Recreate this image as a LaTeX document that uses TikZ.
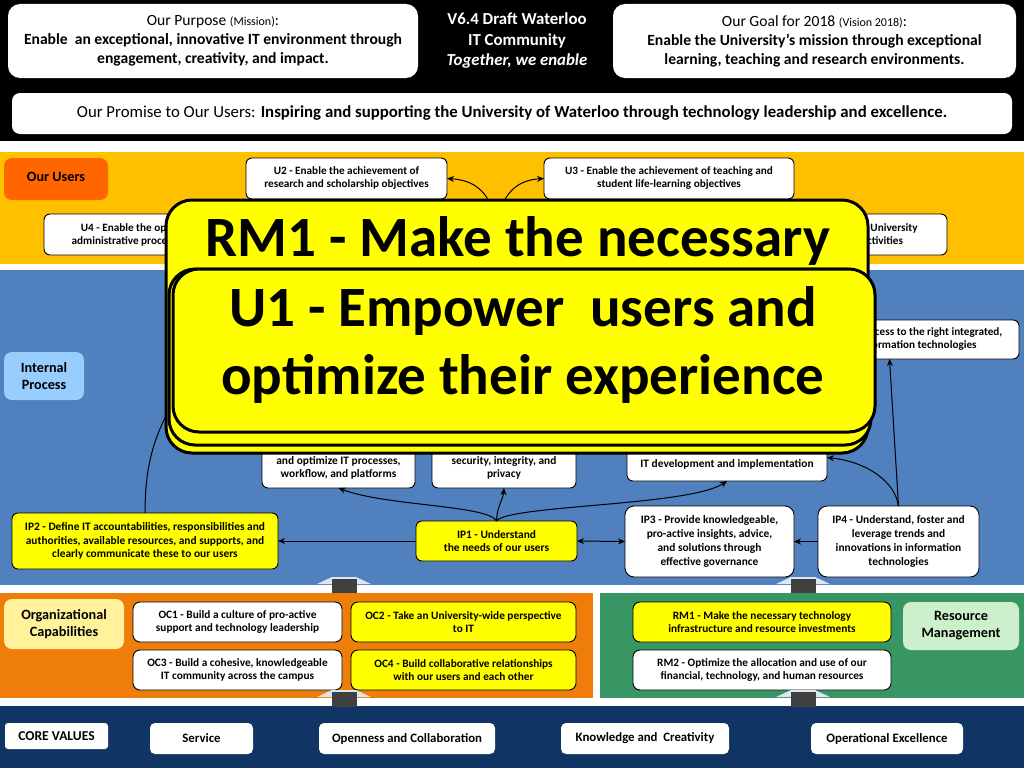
\documentclass[tikz,border=0pt]{standalone}
\usepackage{fontspec}
\setmainfont{Carlito}
\usetikzlibrary{arrows.meta}
\definecolor{usersband}{RGB}{255,192,0}
\definecolor{ipband}{RGB}{80,128,189}
\definecolor{ocband}{RGB}{238,125,10}
\definecolor{rmband}{RGB}{55,150,100}
\definecolor{cvband}{RGB}{16,52,100}
\definecolor{yboxc}{RGB}{255,255,0}
\definecolor{usersorange}{RGB}{255,102,0}
\definecolor{iplabelc}{RGB}{153,204,255}
\definecolor{oclabelc}{RGB}{255,242,155}
\definecolor{rmlabelc}{RGB}{204,240,204}
\definecolor{arrowdark}{RGB}{64,64,64}
\definecolor{arrowlight}{RGB}{220,230,242}
\newcommand\fsz[2]{\fontsize{#1}{#2}\selectfont}
\newcommand\blockarrow[3]{%
  \fill[arrowlight] (#1-27,#2+7) -- (#1-12,#2) -- (#1+12,#2) -- (#1+27,#2+7) -- cycle;
  \fill[arrowdark] (#1-12.5,#2+1.5) rectangle (#1+12.5,#3);
}
\begin{document}
\begin{tikzpicture}[x=1pt,y=-1pt,
  every node/.style={inner sep=0pt, outer sep=0pt},
  wbox/.style={draw=black, line width=0.9pt, rounded corners=6pt, fill=white, align=center, font=\bfseries\fsz{11.2}{13}},
  ywbox/.style={wbox, fill=yboxc},
  ipbox/.style={wbox, font=\bfseries\fsz{11.4}{13.8}},
  yipbox/.style={ipbox, fill=yboxc},
  ocbox/.style={wbox, rounded corners=7pt, font=\bfseries\fsz{11.3}{13.6}},
  yocbox/.style={ocbox, fill=yboxc},
  topbox/.style={fill=white, rounded corners=12pt, align=center, font=\bfseries\fsz{15.6}{19}},
  lbl/.style={rounded corners=8pt, align=center, font=\bfseries\fsz{14.2}{17}},
  cvbox/.style={fill=white, rounded corners=5pt, align=center, font=\bfseries\fsz{12.8}{14}},
  big/.style={draw=black, line width=3pt, fill=yboxc, rounded corners=26pt},
  bigtext/.style={font=\bfseries\fsz{57}{68}, anchor=base},
  conn/.style={line width=1pt, -{Stealth[length=7pt,width=6pt]}},
  plain/.style={line width=1pt},
]
\useasboundingbox (0,0) rectangle (1024,768);
% backgrounds
\fill[white] (0,0) rectangle (1024,768);
\fill[black] (0,0) rectangle (1024,141);
\fill[usersband] (0,152) rectangle (1024,264);
\fill[ipband] (0,270) rectangle (1024,585);
\fill[ocband] (0,593) rectangle (593,698);
\fill[rmband] (600,593) rectangle (1024,698);
\fill[cvband] (0,706) rectangle (1024,768);

% top section
\node[topbox, minimum width=410pt, minimum height=74pt] (purpose) at (213,41)
  {{\mdseries Our Purpose {\fsz{12}{19}(Mission)}:}\\Enable~ an exceptional, innovative IT environment through\\engagement, creativity, and impact.};
\node[align=center, text=white, font=\bfseries\fsz{16.8}{20.5}] (draft) at (517,41)
  {V6.4 Draft Waterloo\\IT Community\\\textit{Together, we enable}};
\node[topbox, minimum width=403pt, minimum height=74pt] (goal) at (814.5,41)
  {{\mdseries Our Goal for 2018 {\fsz{12}{19}(Vision 2018)}:}\\Enable the University’s mission through exceptional\\learning, teaching and research environments.};
\node[topbox, rounded corners=8pt, minimum width=1000pt, minimum height=41pt, font=\bfseries\fsz{16.8}{19}] (promise) at (512,113.5)
  {{\mdseries Our Promise to Our Users:} Inspiring and supporting the University of Waterloo through technology leadership and excellence.};

% users band
\node[lbl, fill=usersorange, minimum width=104pt, minimum height=42pt] (ourusers) at (56,179) {\raisebox{5pt}{Our Users}};
\node[wbox, minimum width=201pt, minimum height=41pt] (u2) at (346.5,178.5) {U2 - Enable the achievement of\\research and scholarship objectives};
\node[wbox, minimum width=250pt, minimum height=41pt] (u3) at (669,178.5) {U3 - Enable the achievement of teaching and\\student life-learning objectives};
\node[wbox, minimum width=236pt, minimum height=41pt] (u4) at (162,234.5) {U4 - Enable the optimization of the\\administrative processes and functions};
\node[wbox, minimum width=254pt, minimum height=41pt] (u5) at (820,234.5) {U5 - Enable the achievement of University\\service and administrative activities};

% internal process band
\node[lbl, fill=iplabelc, minimum width=80pt, minimum height=48pt] (iplabel) at (44,376) {Internal\\Process};
\node[yipbox, minimum width=266pt, minimum height=56pt] (ip2) at (145,541) {IP2 - Define IT accountabilities, responsibilities and\\authorities, available resources, and supports, and\\clearly communicate these to our users};
\node[yipbox, minimum width=161pt, minimum height=40pt] (ip1) at (496.5,541) {IP1 - Understand\\the needs of our users};
\node[ipbox, rounded corners=9pt, minimum width=169pt, minimum height=71pt] (ip3) at (709.5,541.5) {IP3 - Provide knowledgeable,\\pro-active insights, advice,\\and solutions through\\effective governance};
\node[ipbox, rounded corners=9pt, minimum width=161pt, minimum height=71pt] (ip4) at (898.5,541.5) {IP4 - Understand, foster and\\leverage trends and\\innovations in information\\technologies};
\node[ipbox, minimum width=153pt, minimum height=54pt] (ip5) at (338.5,461) {IP5 - Continuously improve\\and optimize IT processes,\\workflow, and platforms};
\node[ipbox, minimum width=144pt, minimum height=54pt] (ip6) at (504,461) {IP6 - Ensure IT availability,\\security, integrity, and\\privacy};
\node[ipbox, minimum width=200pt, minimum height=47pt] (ip7) at (727,457.5) {IP7 - Deliver effective and efficient\\IT development and implementation};
\node[wbox, minimum width=259pt, minimum height=39pt] (ip8) at (889.5,339.5) {IP8 - Provide users access to the right integrated,\\and reliable information technologies};

% connectors
\coordinate (u1hub) at (496,232);
\coordinate (ip2hub) at (205,360);
\draw[conn] (u1hub) .. controls (494,190) and (472,180) .. (u2.east);
\draw[conn] (u1hub) .. controls (500,190) and (520,180) .. (u3.west);
\draw[plain] (ip2.north) .. controls (145,455) and (158,415) .. (ip2hub);
\draw[conn] (ip1.north) .. controls (488,505) and (385,506) .. (ip5.south);
\draw[conn] (ip1.north) .. controls (497,506) and (503,500) .. (ip6.south);
\draw[conn] (ip1.north) .. controls (508,505) and (690,506) .. (ip7.south);
\draw[conn] (ip1.west) -- (ip2.east);
\draw[line width=1pt, {Stealth[length=7pt,width=6pt]}-{Stealth[length=7pt,width=6pt]}] (ip1.east) -- (ip3.west);
\draw[conn] (ip4.west) -- (ip3.east);
\draw[conn] (ip4.north) .. controls (895,482) and (868,462) .. (ip7.east);
\draw[conn] (ip4.north) -- (ip8.south);

% organizational capabilities
\node[lbl, fill=oclabelc, minimum width=120pt, minimum height=50pt] (oclabel) at (64,624) {Organizational\\Capabilities};
\node[ocbox, minimum width=209pt, minimum height=40pt] (oc1) at (237.5,622) {OC1 - Build a culture of pro-active\\support and technology leadership};
\node[yocbox, minimum width=225pt, minimum height=40pt] (oc2) at (463.5,622) {OC2 - Take an University-wide perspective\\to IT};
\node[ocbox, minimum width=209pt, minimum height=40pt] (oc3) at (237.5,670) {OC3 - Build a cohesive, knowledgeable\\IT community across the campus};
\node[yocbox, minimum width=225pt, minimum height=40pt] (oc4) at (463.5,670) {OC4 - Build collaborative relationships\\with our users and each other};

% resource management
\node[yocbox, minimum width=258pt, minimum height=40pt] (rm1) at (762,622) {RM1 - Make the necessary technology\\infrastructure and resource investments};
\node[ocbox, minimum width=258pt, minimum height=40pt] (rm2) at (762,670) {RM2 - Optimize the allocation and use of our\\financial, technology, and human resources};
\node[lbl, fill=rmlabelc, minimum width=116pt, minimum height=48pt] (rmlabel) at (961,626) {Resource\\Management};

% block arrows
\blockarrow{344}{577}{593}
\blockarrow{344}{690}{707}
\blockarrow{803}{577}{593}
\blockarrow{803}{690}{707}

% core values
\node[cvbox, rounded corners=3pt, minimum width=103pt, minimum height=26pt, font=\bfseries\fsz{13.6}{14}] (cv) at (56.5,736) {CORE VALUES};
\node[cvbox, minimum width=103pt, minimum height=31pt] (service) at (201.5,738.5) {Service};
\node[cvbox, minimum width=176pt, minimum height=31pt] (openness) at (407,738.5) {Openness and Collaboration};
\node[cvbox, minimum width=168pt, minimum height=31pt] (knowledge) at (645,738.5) {Knowledge and~ Creativity};
\node[cvbox, minimum width=152pt, minimum height=31pt] (operational) at (887,738.5) {Operational Excellence};

% big callouts
\node[big, minimum width=702pt, minimum height=253pt] (rmbig) at (517,326.5) {};
\node[bigtext] (rmbigtext) at (518,256) {RM1 - Make the necessary};
\node[big, minimum width=702pt, minimum height=176pt] (u1back) at (520,357) {};
\node[big, minimum width=702pt, minimum height=163pt] (u1big) at (524,350.5) {};
\node[bigtext] (u1line1) at (523,326) {U1 - Empower~ users and};
\node[bigtext] (u1line2) at (523,394) {optimize their experience};
\end{tikzpicture}
\end{document}
